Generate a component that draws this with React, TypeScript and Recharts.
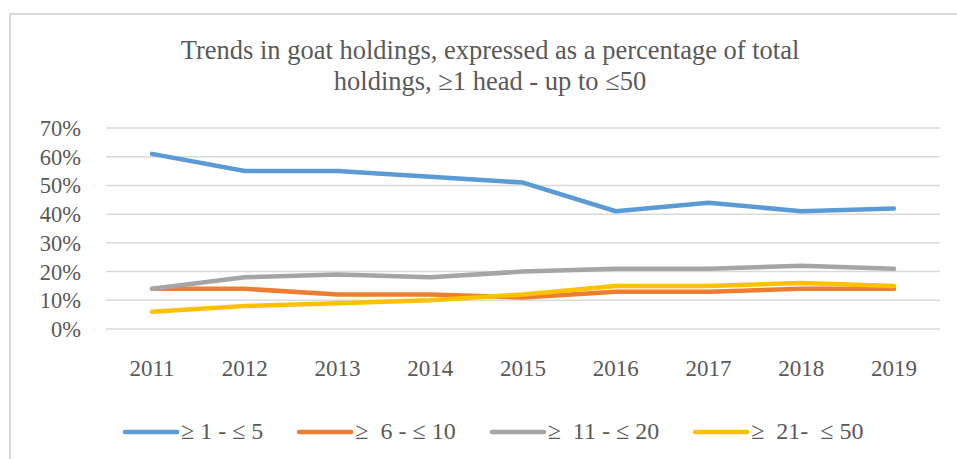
import React from 'react';
import { LineChart, Line, XAxis, YAxis, CartesianGrid, Legend } from 'recharts';

const years = ['2011', '2012', '2013', '2014', '2015', '2016', '2017', '2018', '2019'];
const range1to5 = [61, 55, 55, 53, 51, 41, 44, 41, 42];
const range6to10 = [14, 14, 12, 12, 11, 13, 13, 14, 14];
const range11to20 = [14, 18, 19, 18, 20, 21, 21, 22, 21];
const range21to50 = [6, 8, 9, 10, 12, 15, 15, 16, 15];
const yTicks = [0, 10, 20, 30, 40, 50, 60, 70];

const seriesNames = ['≥ 1 - ≤ 5', '≥  6 - ≤ 10', '≥  11 - ≤ 20', '≥  21-  ≤ 50'];
const seriesColors = ['#5b9bd5', '#ed7d31', '#a5a5a5', '#ffc000'];

const FONT = '"Liberation Serif", "Times New Roman", serif';
const TEXT = '#595959';

const chartData = years.map((year, i) => ({
  year,
  s1: range1to5[i],
  s2: range6to10[i],
  s3: range11to20[i],
  s4: range21to50[i],
}));

const renderLegend = (props: any) => {
  const { payload } = props;
  return (
    <div style={{ display: 'flex', alignItems: 'center', fontFamily: FONT, fontSize: 24, color: TEXT }}>
      {payload.map((entry: any, i: number) => (
        <div key={i} style={{ display: 'flex', alignItems: 'center', marginRight: 33 }}>
          <svg width={58} height={8} style={{ marginRight: 1 }}>
            <line x1={3} y1={4} x2={55} y2={4} stroke={entry.color} strokeWidth={4.5} strokeLinecap="round" />
          </svg>
          <span style={{ whiteSpace: 'pre' }}>{entry.value}</span>
        </div>
      ))}
    </div>
  );
};

export default function App() {
  return (
    <div style={{ position: 'absolute', left: 0, top: 0, width: 957, height: 459, overflow: 'hidden', background: '#fff' }}>
      <div style={{ position: 'absolute', left: 9, top: 13, width: 960, height: 460, border: '2px solid #d9d9d9' }} />
      <div
        style={{
          position: 'absolute', top: 35, left: 0, width: 980, textAlign: 'center',
          fontFamily: FONT, fontSize: 26.5, lineHeight: '31px', color: TEXT,
        }}
      >
        Trends in goat holdings, expressed as a percentage of total
        <br />
        holdings, ≥1 head - up to ≤50
      </div>
      <div style={{ position: 'absolute', left: 0, top: 0 }}>
        <LineChart width={957} height={459} data={chartData} margin={{ top: 128, right: 17, bottom: 90, left: 0 }}>
          <CartesianGrid vertical={false} stroke="#d9d9d9" strokeWidth={1.5} />
          <XAxis
            dataKey="year"
            axisLine={false}
            tickLine={false}
            tickSize={0}
            tickMargin={31}
            height={40}
            padding={{ left: 46, right: 46 }}
            tick={{ fill: TEXT, fontFamily: FONT, fontSize: 23 }}
          />
          <YAxis
            domain={[0, 70]}
            ticks={yTicks}
            interval={0}
            width={106}
            axisLine={false}
            tickLine={false}
            tickSize={0}
            tickMargin={25}
            tickFormatter={(v: number) => `${v}%`}
            tick={{ fill: TEXT, fontFamily: FONT, fontSize: 22.5 }}
          />
          <Legend
            verticalAlign="bottom"
            align="center"
            itemSorter="dataKey"
            content={renderLegend}
            wrapperStyle={{ top: 418, left: 122, width: 835, height: 0, bottom: 'auto' }}
          />
          {['s1', 's2', 's3', 's4'].map((key, i) => (
            <Line
              key={key}
              type="linear"
              dataKey={key}
              name={seriesNames[i]}
              stroke={seriesColors[i]}
              strokeWidth={4.5}
              strokeLinecap="round"
              strokeLinejoin="round"
              dot={false}
              activeDot={false}
              isAnimationActive={false}
            />
          ))}
        </LineChart>
      </div>
    </div>
  );
}
